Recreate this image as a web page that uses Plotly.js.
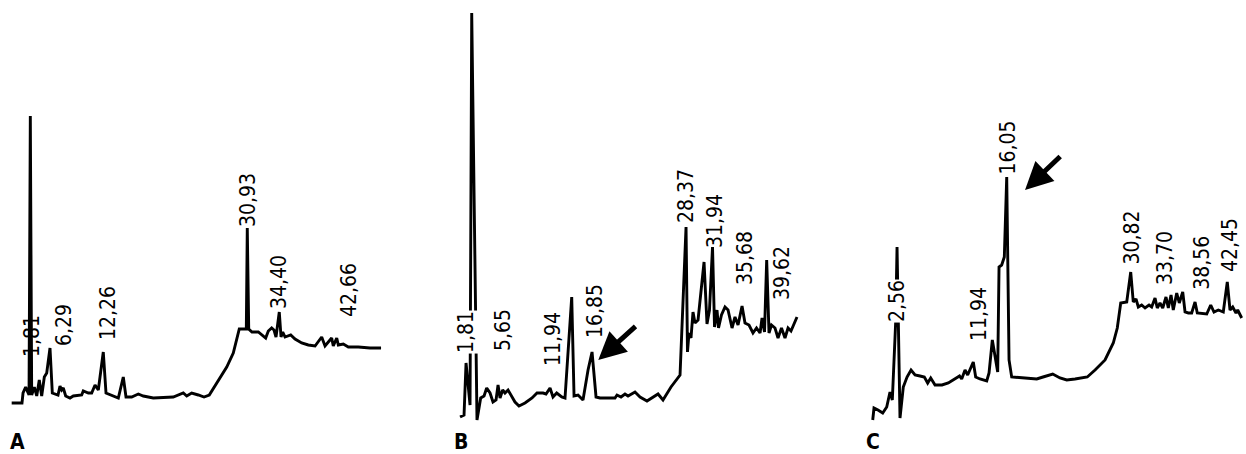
<!DOCTYPE html>
<html>
<head>
<meta charset="utf-8">
<script src="https://cdn.plot.ly/plotly-3.0.1.min.js"></script>
<style>html,body{margin:0;padding:0;background:#fff}#chart{width:1246px;height:454px}</style>
</head>
<body>
<div id="chart"></div>
<script>
// ---------- Panel A : retention time (min) / detector signal ----------
const timeA = [1.46,2.75,2.88,3.21,3.46,3.63,3.79,3.96,4.29,4.59,4.91,5.21,5.54,5.84,6.25,6.54,7.25,7.5,7.71,7.91,8.21,8.75,9.16,10.21,10.41,11.04,11.46,11.88,12.29,12.91,13.25,13.96,14.79,15.41,15.75,16.46,17.29,17.91,19.16,21.66,22.91,23.34,23.96,24.79,25.5,26.16,27.09,28.34,29.16,29.91,30.79,30.91,31.09,31.5,32.29,33.21,33.54,33.96,34.25,34.5,34.91,35.13,35.34,35.63,36.34,36.88,37.71,38.54,39.38,40.21,40.63,41.46,41.66,42.09,42.29,42.91,43.54,44.79,46.25,47.63];
const signalA = [7,7,17,23,18,15,294,15,23,14,30,14,33,37,62,17,15,24,20,22,14,12,14,15,19,17,17,25,20,58,17,15,12,33,13,13,16,14,12,13,17,14,17,15,13,15,27,43,57,81,81,182,81,78,78,72,79,82,80,73,98,73,78,73,75,71,67,65,64,73,64,72,64,72,65,66,63,63,62,62];

// ---------- Panel B ----------
const timeB = [0.63,1.13,1.38,1.69,1.88,2.09,2.75,3.21,3.63,3.96,4.38,4.75,5.13,5.38,5.63,5.96,6.25,6.63,7.13,7.5,8.0,8.75,9.63,10.25,11.0,11.38,11.88,12.25,12.71,13.34,13.75,14.59,14.88,15.38,16.0,16.63,17.13,17.38,17.63,18.13,20.0,20.25,20.75,21.25,21.63,22.5,23.13,24.0,24.75,25.38,26.0,27.0,28.13,28.88,29.06,29.25,29.5,29.75,30.0,30.38,31.13,31.5,31.81,32.19,32.44,32.75,32.94,33.31,33.75,34.13,34.63,35.0,35.38,35.88,36.25,36.75,37.25,37.69,38.13,38.38,38.69,38.96,39.25,39.56,40.0,40.38,40.81,41.25,41.63,42.0,42.75];
const signalB = [-7,-5,47,15,5,397,-10,12,14,22,17,8,10,25,12,20,17,20,13,8,4,7,12,17,17,16,22,13,17,13,12,113,14,15,10,40,58,35,13,12,12,15,13,16,14,18,13,9,13,16,10,23,35,183,58,77,72,98,87,90,148,86,100,163,83,100,82,95,103,100,82,93,85,104,87,85,77,82,77,92,78,150,77,85,82,72,82,72,82,79,93];

// ---------- Panel C ----------
const timeC = [0.84,1.0,1.5,2.09,2.59,3.0,3.29,3.71,3.88,4.25,4.66,5.13,5.63,6.13,6.75,7.29,7.71,8.09,8.63,9.5,10.29,11.34,11.69,11.96,12.38,12.71,13.13,13.41,13.71,14.25,15.09,15.38,15.79,16.19,16.46,16.63,16.96,17.29,17.59,17.88,18.21,19.88,21.34,22.13,23.34,24.25,25.09,26.13,26.75,27.66,28.63,29.88,30.91,31.41,31.84,32.59,33.09,33.41,33.75,34.04,34.46,34.88,35.38,35.71,36.13,36.41,36.75,37.09,37.5,37.79,38.13,38.41,38.84,39.16,39.59,39.88,40.29,40.71,41.13,41.41,42.59,43.09,43.5,44.04,44.66,45.16,45.5,45.84,46.25,46.46,46.96];
const signalC = [-10,2,0,-3,3,18,10,88,163,-8,23,33,40,35,34,33,27,32,25,25,27,32,34,31,40,35,42,48,33,31,29,37,70,50,38,143,145,153,233,50,33,32,31,33,36,32,30,31,32,33,40,50,67,82,107,108,138,108,111,103,105,102,105,103,112,102,107,102,113,102,115,100,117,107,118,98,97,97,108,97,96,105,98,100,98,128,100,103,97,100,92];

// ---------- Peak labels (text, time, signal of label centre) ----------
const labelsA = ["1,81","6,29","12,26","30,93","34,40","42,66"];
const labelTimeA = [4.0,8.0,13.5,31.0,34.88,43.63];
const labelSigA = [74,85,97,210,128,120];

const labelsB = ["1,81","5,65","11,94","16,85","28,37","31,94","35,68","39,62"];
const labelTimeB = [1.38,6.0,12.25,17.5,28.88,32.5,36.25,40.88];
const labelSigB = [78,80,71,99,214,189,152,137];

const labelsC = ["2,56","11,94","16,05","30,82","33,70","38,56","42,45"];
const labelTimeC = [3.88,14.13,17.69,33.19,37.38,41.96,45.5];
const labelSigC = [109,96,262,172,152,147,165];

// arrows: [tipTime, tipSignal, tailTime, tailSignal]
const arrowB = [17.91, 50, 22.75, 85];
const arrowC = [19.88, 220, 24.46, 255];

const panelLetters = ["A","B","C"];

const lineStyle = {color:'#000', width:2.9};
const traces = [
  {x:timeA, y:signalA, xaxis:'x', yaxis:'y', mode:'lines', line:lineStyle, hoverinfo:'skip'},
  {x:timeB, y:signalB, xaxis:'x2', yaxis:'y2', mode:'lines', line:lineStyle, hoverinfo:'skip'},
  {x:timeC, y:signalC, xaxis:'x3', yaxis:'y3', mode:'lines', line:lineStyle, hoverinfo:'skip'}
];

const labelFont = {family:'Liberation Sans Narrow, Arial Narrow, DejaVu Sans Condensed, sans-serif', size:21, color:'#000'};
const annotations = [];
function addLabels(texts, ts, ss, xr, yr, bgIdx){
  texts.forEach((t,i)=>{
    annotations.push({text:t, x:ts[i], y:ss[i], xref:xr, yref:yr, showarrow:false,
      textangle:-90, font:labelFont, xanchor:'center', yanchor:'middle',
      bgcolor: bgIdx.includes(i) ? '#fff' : 'rgba(0,0,0,0)', borderpad:0});
  });
}
addLabels(labelsA, labelTimeA, labelSigA, 'x', 'y', []);
addLabels(labelsB, labelTimeB, labelSigB, 'x2', 'y2', [0]);
addLabels(labelsC, labelTimeC, labelSigC, 'x3', 'y3', [0]);

function addArrow(a, xr, yr){
  annotations.push({text:'', x:a[0], y:a[1], ax:a[2], ay:a[3], xref:xr, yref:yr, axref:xr, ayref:yr,
    showarrow:true, arrowhead:2, arrowsize:1.1, arrowwidth:5, arrowcolor:'#000', standoff:0});
}
addArrow(arrowB, 'x2', 'y2');
addArrow(arrowC, 'x3', 'y3');

const letterX = [0.0144, 0.370, 0.7006];
panelLetters.forEach((l,i)=>{
  annotations.push({text:'<b>'+l+'</b>', x:letterX[i], y:0.027, xref:'paper', yref:'paper', showarrow:false,
    xanchor:'center', yanchor:'middle',
    font:{family:'Liberation Sans Narrow, Arial Narrow, DejaVu Sans Condensed, sans-serif', size:21, color:'#000'}});
});

const hidden = {visible:false, fixedrange:true};
const yr = [-44, 410];
const layout = {
  width:1246, height:454, margin:{l:0,r:0,t:0,b:0},
  paper_bgcolor:'#fff', plot_bgcolor:'rgba(0,0,0,0)', showlegend:false,
  xaxis: Object.assign({domain:[0, 400/1246], range:[0,50]}, hidden),
  xaxis2: Object.assign({domain:[455/1246, 855/1246], range:[0,50]}, hidden),
  xaxis3: Object.assign({domain:[866/1246, 1], range:[0,47.5]}, hidden),
  yaxis: Object.assign({domain:[0,1], range:yr, anchor:'x'}, hidden),
  yaxis2: Object.assign({domain:[0,1], range:yr, anchor:'x2'}, hidden),
  yaxis3: Object.assign({domain:[0,1], range:yr, anchor:'x3'}, hidden),
  annotations: annotations
};
Plotly.newPlot('chart', traces, layout, {displayModeBar:false, staticPlot:true});
</script>
</body>
</html>
